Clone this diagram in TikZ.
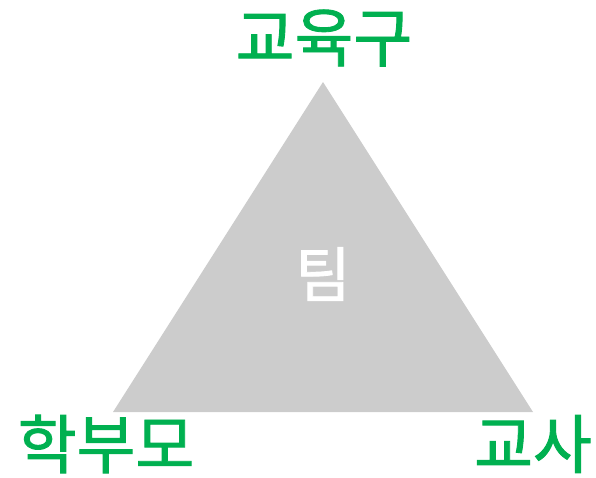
\documentclass[tikz,border=0pt]{standalone}
\usepackage{fontspec}
\newfontfamily\kr[FakeBold=1.4]{Noto Sans CJK KR}
\definecolor{lbl}{HTML}{00B050}
\definecolor{tri}{HTML}{CCCCCC}
\begin{document}
\begin{tikzpicture}[x=1pt,y=-1pt,
  lab/.style={text=lbl,font=\kr\fontsize{64}{70}\selectfont,inner sep=0pt},
  mid/.style={text=white,font=\kr\fontsize{60}{66}\selectfont,inner sep=0pt}]
\useasboundingbox (0,0) rectangle (596,477);
\coordinate (A) at (323,82);
\coordinate (B) at (113,412);
\coordinate (C) at (533,412);
\fill[tri] (A) -- (B) -- (C) -- cycle;
\node[mid] (team) at (323,274) {팀};
\node[lab] (top) at (324,38) {교육구};
\node[lab] (left) at (106,444) {학부모};
\node[lab] (right) at (533,444) {교사};
\end{tikzpicture}
\end{document}
